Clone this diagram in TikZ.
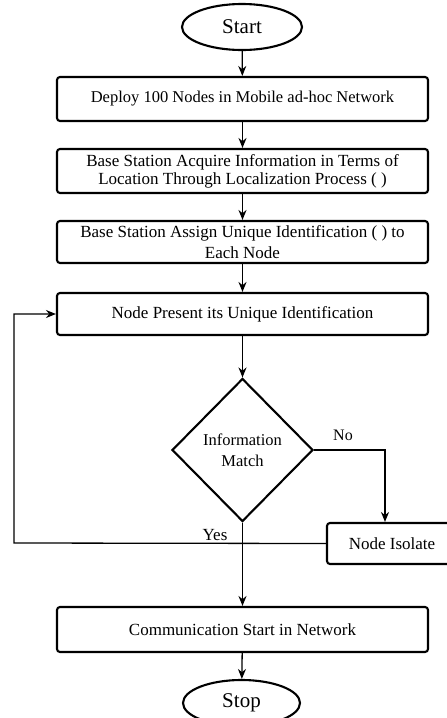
\documentclass[tikz,border=0pt]{standalone}
\usepackage{fontspec}
\setmainfont{Liberation Serif}
\usetikzlibrary{shapes.geometric,arrows.meta}
\begin{document}
\begin{tikzpicture}[x=1pt,y=-1pt,
  every node/.style={font=\fontsize{17}{20}\selectfont},
  procbox/.style={draw,line width=2.1pt,rounded corners=3pt,minimum width=371pt,inner sep=0pt,align=center},
  term/.style={draw,ellipse,line width=2.1pt,inner sep=0pt,font=\fontsize{21}{24}\selectfont},
  decide/.style={draw,diamond,line width=2.1pt,inner sep=0pt,minimum width=141pt,minimum height=143pt,align=center},
  flow/.style={line width=1.3pt,-{Stealth[length=10pt,width=8pt]}},
  lbl/.style={font=\fontsize{16}{18}\selectfont}]
\useasboundingbox[fill=white] (0,0) rectangle (447,718);
\node[term,minimum width=120pt,minimum height=46pt] (start) at (242,27) {Start};
\node[procbox,minimum height=44pt,font=\fontsize{16.5}{20}\selectfont] (b1) at (242.5,99) {Deploy 100 Nodes in Mobile ad-hoc Network};
\node[procbox,minimum height=44pt,font=\fontsize{17}{18}\selectfont] (b2) at (242.5,171) {Base Station Acquire Information in Terms of\\Location Through Localization Process ( )};
\node[procbox,minimum height=42pt,font=\fontsize{17}{21}\selectfont] (b3) at (242.5,242) {Base Station Assign Unique Identification ( ) to\\Each Node};
\node[procbox,minimum height=42pt] (b4) at (242.5,314) {Node Present its Unique Identification};
\node[decide,font=\fontsize{16.5}{21}\selectfont] (dec) at (242.5,450) {Information\\Match};
\node[procbox,minimum width=130pt,minimum height=41pt] (iso) at (392,543.5) {Node Isolate};
\node[procbox,minimum height=45pt] (comm) at (242.5,629.5) {Communication Start in Network};
\node[term,minimum width=117pt,minimum height=46pt] (stop) at (241.5,703) {Stop};
\coordinate (nocorner) at (385,450);
\coordinate (loopbot) at (14,543);
\draw[flow] (start) -- (b1);
\draw[flow] (b1) -- (b2);
\draw[flow] (b2) -- (b3);
\draw[flow] (b3) -- (b4);
\draw[flow] (b4) -- (dec);
\draw[flow] (dec) -- (comm);
\draw[flow] (comm) -- (stop);
\draw[flow] (dec.east) -- (nocorner) -- (nocorner |- iso.north);
\draw[flow] (iso.west) -- (loopbot) |- (b4.west);
\node[lbl] (nolbl) at (343,435) {No};
\node[lbl,font=\fontsize{17}{19}\selectfont] (yeslbl) at (215,535) {Yes};
\end{tikzpicture}
\end{document}
